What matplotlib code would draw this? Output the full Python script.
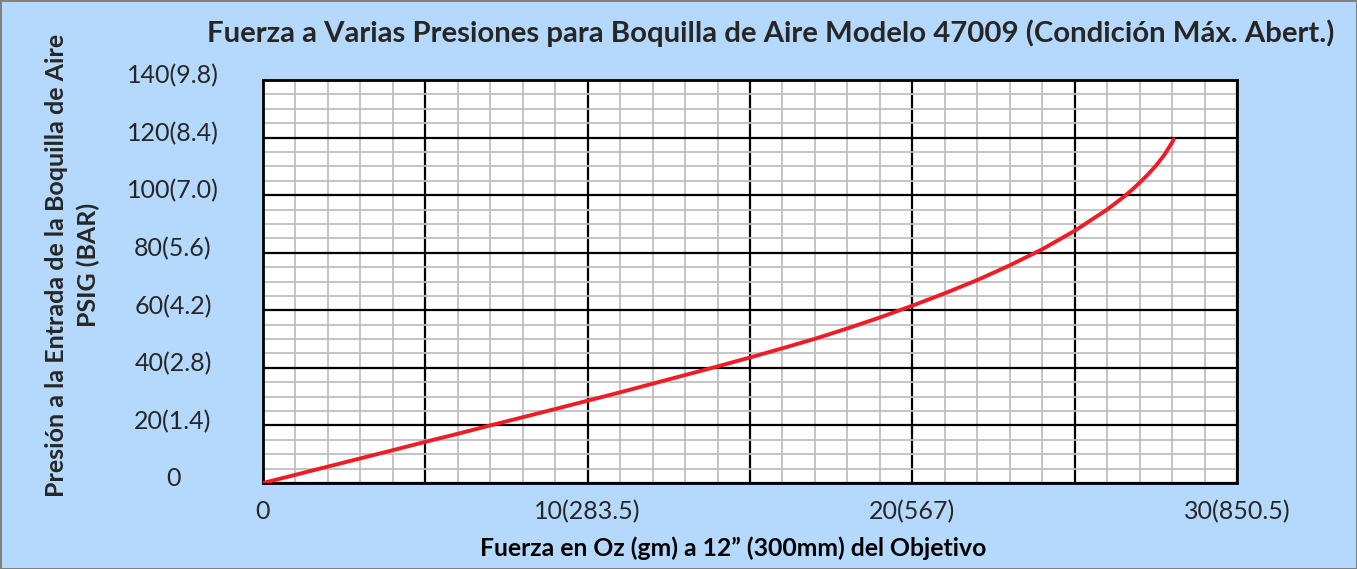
import matplotlib.pyplot as plt
import numpy as np

# force (oz) vs inlet pressure (psig)
fuerza = [0, 1, 2, 3, 4, 5, 6, 7, 8, 9, 10, 11, 12, 13, 14, 15, 16, 17, 18, 19, 20,
          21, 22, 23, 24, 25, 26, 26.5, 26.75, 27, 27.25, 27.5, 27.75, 28, 28.05]
presion = [0, 2.85, 5.7, 8.55, 11.4, 14.3, 17.1, 20.0, 22.85, 25.7, 28.6, 31.5, 34.5,
           37.5, 40.5, 43.6, 46.8, 50.1, 53.7, 57.5, 61.6, 65.9, 70.5, 75.6, 81.2,
           87.6, 95.0, 99.3, 101.7, 104.3, 107.1, 110.2, 113.8, 118.3, 119.4]

x_ticks = [0, 10, 20, 30]
x_labels = ['0', '10(283.5)', '20(567)', '30(850.5)']
y_ticks = [0, 20, 40, 60, 80, 100, 120, 140]
y_labels = ['0', '20(1.4)', '40(2.8)', '60(4.2)', '80(5.6)', '100(7.0)', '120(8.4)', '140(9.8)']

plt.rcParams['font.family'] = ['Lato', 'DejaVu Sans']
bg = '#b4d9fc'

fig = plt.figure(figsize=(13.57, 5.69), dpi=100, facecolor=bg,
                 edgecolor='#808080', linewidth=2)
ax = fig.add_axes([263/1357, 1 - 483/569, (1237-263)/1357, (483-80)/569])
ax.set_facecolor('white')
ax.set_xlim(0, 30)
ax.set_ylim(0, 140)

# grid
ax.set_xticks(np.arange(0, 31, 1), minor=True)
ax.set_yticks(np.arange(0, 141, 5), minor=True)
ax.set_xticks(np.arange(0, 31, 5))
ax.set_yticks(np.arange(0, 141, 20))
ax.grid(which='minor', color='#bfbfbf', linewidth=1.3)
ax.grid(which='major', color='black', linewidth=1.6)
ax.set_axisbelow(True)
ax.tick_params(which='both', length=0, labelbottom=False, labelleft=False)
for s in ax.spines.values():
    s.set_linewidth(2)
    s.set_color('black')

ax.plot(fuerza, presion, color='#ee1c25', linewidth=2.8, solid_capstyle='round',
        solid_joinstyle='round', zorder=5)

# tick labels as text so they can sit where the original has them
for v, lab in zip(y_ticks, y_labels):
    ax.text(-90/32.47, v + 1.4, lab, ha='center', va='center', fontsize=18, color='#262626',
            clip_on=False)
for v, lab in zip(x_ticks, x_labels):
    ax.text(v, -10, lab, ha='center', va='center', fontsize=18, color='#262626', clip_on=False)

fig.text(771/1357, 1 - 33/569, 'Fuerza a Varias Presiones para Boquilla de Aire Modelo 47009 (Condición Máx. Abert.)',
         ha='center', va='center', fontsize=21.2, fontweight='bold', color='#262626')
fig.text(733/1357, 1 - 548/569, 'Fuerza en Oz (gm) a 12” (300mm) del Objetivo',
         ha='center', va='center', fontsize=17.8, fontweight='bold', color='black')
fig.text(57/1357, 1 - 265/569, 'Presión a la Entrada de la Boquilla de Aire',
         ha='center', va='center', rotation=90, fontsize=18, fontweight='bold', color='#262626')
fig.text(88/1357, 1 - 265/569, 'PSIG (BAR)',
         ha='center', va='center', rotation=90, fontsize=18, fontweight='bold', color='#262626')

fig.savefig('out.png', dpi=100, facecolor=bg, edgecolor='#808080')
